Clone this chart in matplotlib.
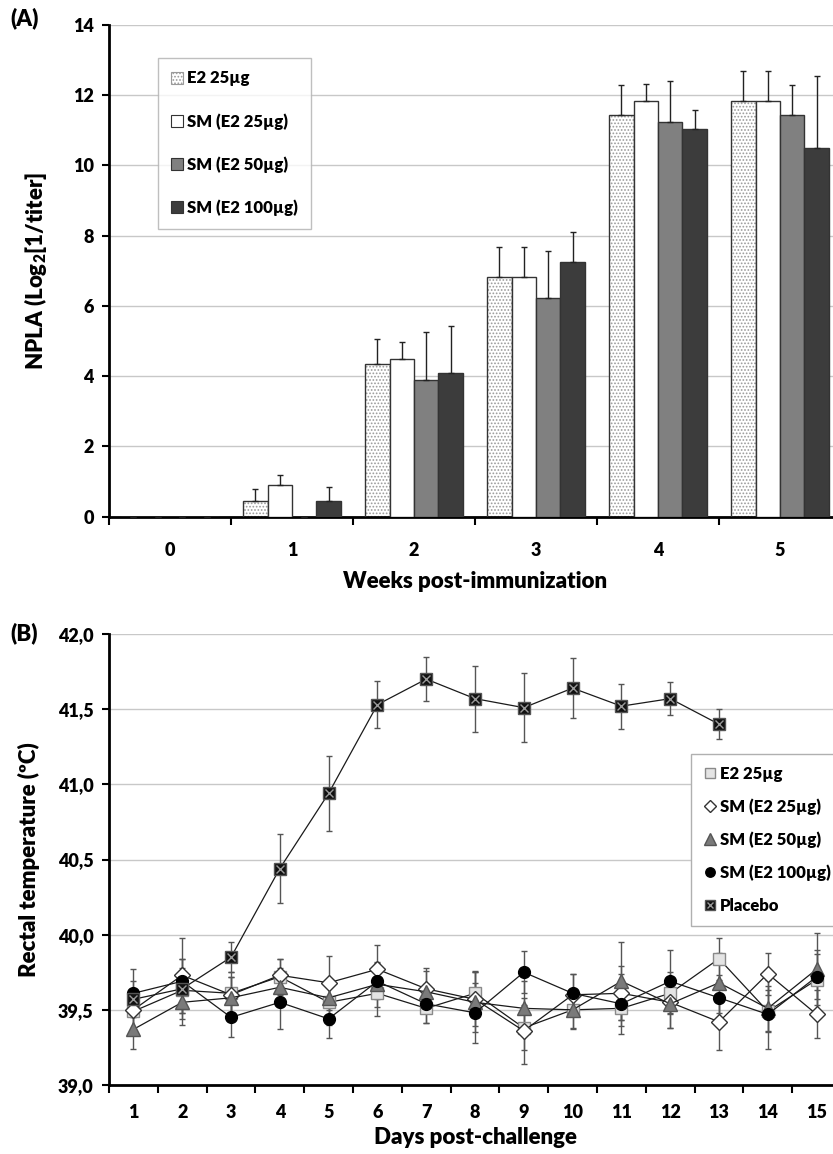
import numpy as np
import matplotlib
matplotlib.use("Agg")
import matplotlib.pyplot as plt
from matplotlib.lines import Line2D
from matplotlib.patches import Patch

plt.rcParams['font.family'] = ['Lato', 'DejaVu Sans']
plt.rcParams['font.weight'] = 'heavy'
plt.rcParams['axes.labelweight'] = 'heavy'
plt.rcParams['mathtext.fontset'] = 'custom'
plt.rcParams['mathtext.rm'] = 'Lato:extrabold'
plt.rcParams['mathtext.bf'] = 'Lato:extrabold'
plt.rcParams['hatch.linewidth'] = 0.8

# ---- panel A data: NPLA titres ----
weeks = ['0', '1', '2', '3', '4', '5']
groups = ['E2 25µg', 'SM (E2 25µg)', 'SM (E2 50µg)', 'SM (E2 100µg)']
npla_e2_25 = [0, 0.44, 4.35, 6.83, 11.45, 11.85]
npla_sm25 = [0, 0.91, 4.50, 6.83, 11.85, 11.85]
npla_sm50 = [0, 0, 3.90, 6.24, 11.25, 11.45]
npla_sm100 = [0, 0.44, 4.10, 7.25, 11.04, 10.50]
npla_err_e2_25 = [0, 0.34, 0.70, 0.84, 0.84, 0.85]
npla_err_sm25 = [0, 0.28, 0.46, 0.84, 0.46, 0.85]
npla_err_sm50 = [0, 0, 1.36, 1.33, 1.15, 0.84]
npla_err_sm100 = [0, 0.40, 1.32, 0.87, 0.55, 2.04]

# ---- panel B data: rectal temperature ----
days = list(range(1, 16))
temp_e2_25 = [39.49, 39.63, 39.61, 39.72, 39.55, 39.61, 39.51, 39.61, 39.38, 39.50, 39.51, 39.61, 39.84, 39.49, 39.70]
temp_sm25 = [39.50, 39.73, 39.60, 39.73, 39.68, 39.77, 39.64, 39.57, 39.36, 39.60, 39.61, 39.55, 39.42, 39.74, 39.47]
temp_sm50 = [39.37, 39.55, 39.58, 39.65, 39.58, 39.67, 39.62, 39.55, 39.51, 39.50, 39.69, 39.54, 39.68, 39.51, 39.77]
temp_sm100 = [39.61, 39.69, 39.45, 39.55, 39.44, 39.69, 39.54, 39.48, 39.75, 39.61, 39.54, 39.69, 39.58, 39.47, 39.72]
temp_placebo = [39.57, 39.64, 39.85, 40.44, 40.94, 41.53, 41.70, 41.57, 41.51, 41.64, 41.52, 41.57, 41.40]
err_e2_25 = [0.12, 0.15, 0.14, 0.12, 0.15, 0.15, 0.10, 0.15, 0.15, 0.12, 0.12, 0.14, 0.14, 0.14, 0.20]
err_sm25 = [0.14, 0.25, 0.12, 0.11, 0.18, 0.16, 0.14, 0.18, 0.22, 0.14, 0.18, 0.17, 0.19, 0.14, 0.16]
err_sm50 = [0.13, 0.15, 0.14, 0.13, 0.12, 0.15, 0.14, 0.20, 0.18, 0.13, 0.26, 0.16, 0.20, 0.15, 0.24]
err_sm100 = [0.16, 0.15, 0.13, 0.18, 0.13, 0.12, 0.13, 0.20, 0.14, 0.13, 0.20, 0.21, 0.15, 0.23, 0.15]
err_placebo = [0.12, 0.20, 0.10, 0.23, 0.25, 0.155, 0.145, 0.22, 0.23, 0.20, 0.15, 0.11, 0.10]
temp_ticks = [39.0, 39.5, 40.0, 40.5, 41.0, 41.5, 42.0]
temp_labels = ['39,0', '39,5', '40,0', '40,5', '41,0', '41,5', '42,0']

W, H = 833, 1154
fig = plt.figure(figsize=(W / 100, H / 100), dpi=100)


def box(x0, x1, ytop, ybot):
    return [x0 / W, 1 - ybot / H, (x1 - x0) / W, (ybot - ytop) / H]


def style_axes(ax):
    for s in ('top', 'right'):
        ax.spines[s].set_visible(False)
    for s in ('left', 'bottom'):
        ax.spines[s].set_linewidth(2)
    ax.yaxis.grid(True, color='#c8c8c8', lw=1)
    ax.set_axisbelow(True)
    ax.tick_params(axis='y', which='major', length=5, width=1.5, labelsize=13, pad=6)
    ax.tick_params(axis='x', which='major', length=6, width=1.5, labelbottom=False)
    ax.tick_params(axis='x', which='minor', length=0, labelsize=13, pad=18)


# ================= Panel A =================
axA = fig.add_axes(box(109, 841, 25, 516.7))
x = np.arange(len(weeks))
bw = 0.2
series = [npla_e2_25, npla_sm25, npla_sm50, npla_sm100]
errs = [npla_err_e2_25, npla_err_sm25, npla_err_sm50, npla_err_sm100]
faces = ['white', 'white', '#808080', '#3c3c3c']
for i, (vals, e, fc) in enumerate(zip(series, errs, faces)):
    xs = x - 0.3 + i * bw
    if i == 0:
        axA.bar(xs, vals, bw, color='white', edgecolor='#9a9a9a', lw=0, hatch='.....', zorder=2)
        axA.bar(xs, vals, bw, color='none', edgecolor='#333333', lw=1, zorder=3)
    else:
        axA.bar(xs, vals, bw, color=fc, edgecolor='#333333', lw=1, zorder=3)
    axA.errorbar(xs, vals, yerr=[np.zeros(len(e)), e], fmt='none', ecolor='#222222',
                 elinewidth=1, capsize=2, capthick=1, zorder=4)
axA.set_xlim(-0.5, len(weeks) - 0.5)
axA.set_ylim(0, 14)
axA.set_yticks(range(0, 15, 2))
axA.set_xticks(np.arange(-0.5, len(weeks), 1.0))
axA.set_xticks(x, minor=True)
axA.set_xticklabels(weeks, minor=True)
style_axes(axA)
axA.set_xlabel('Weeks post-immunization', fontsize=16, labelpad=9)
axA.set_ylabel(r'NPLA (Log$_\mathbf{2}$[1/titer]', fontsize=16, labelpad=17)

legA_handles = [Patch(facecolor='white', edgecolor='#9a9a9a', hatch='.....', lw=0.8),
                Patch(facecolor='white', edgecolor='#333333', lw=0.8),
                Patch(facecolor='#808080', edgecolor='#333333', lw=0.8),
                Patch(facecolor='#3c3c3c', edgecolor='#333333', lw=0.8)]
legA = axA.legend(legA_handles, groups, loc='upper left', bbox_to_anchor=(0.067, 0.933),
                  prop={'size': 12, 'weight': 'heavy'}, frameon=True, fancybox=False,
                  edgecolor='#b0b0b0', handlelength=0.75, handleheight=0.75,
                  handletextpad=0.25, labelspacing=1.6, borderpad=0.75, borderaxespad=0)
legA.get_frame().set_linewidth(1)
fig.text(10 / W, 1 - 18 / H, '(A)', fontsize=16, fontweight='heavy', va='center', ha='left')

# ================= Panel B =================
axB = fig.add_axes(box(109, 841, 634, 1085))
ebar = dict(fmt='none', ecolor='#555555', elinewidth=1, capsize=2, capthick=1, zorder=2)
line_kw = dict(color='#1a1a1a', lw=0.9, zorder=3)

axB.errorbar(days, temp_e2_25, yerr=err_e2_25, **ebar)
axB.errorbar(days, temp_sm25, yerr=err_sm25, **ebar)
axB.errorbar(days, temp_sm50, yerr=err_sm50, **ebar)
axB.errorbar(days, temp_sm100, yerr=err_sm100, **ebar)
axB.errorbar(days[:len(temp_placebo)], temp_placebo, yerr=err_placebo, **ebar)

mk_e2 = dict(marker='s', ms=9, mfc='#e4e4e4', mec='#8a8a8a', mew=1)
mk_sm25 = dict(marker='D', ms=8, mfc='white', mec='#333333', mew=1)
mk_sm50 = dict(marker='^', ms=10, mfc='#7a7a7a', mec='#555555', mew=1)
mk_sm100 = dict(marker='o', ms=8.5, mfc='black', mec='black', mew=1)
mk_pl = dict(marker='s', ms=9, mfc='#111111', mec='#555555', mew=1)

axB.plot(days, temp_e2_25, **line_kw, **mk_e2)
axB.plot(days, temp_sm25, **line_kw, **mk_sm25)
axB.plot(days, temp_sm50, **line_kw, **mk_sm50)
axB.plot(days, temp_sm100, **line_kw, **mk_sm100)
axB.plot(days[:len(temp_placebo)], temp_placebo, **line_kw, **mk_pl)
axB.plot(days[:len(temp_placebo)], temp_placebo, ls='none', marker='x', ms=6,
         mec='#9a9a9a', mew=1, zorder=4)

axB.set_xlim(0.5, len(days) + 0.5)
axB.set_ylim(39.0, 42.0)
axB.set_yticks(temp_ticks)
axB.set_yticklabels(temp_labels)
axB.set_xticks(np.arange(0.5, len(days) + 1, 1.0))
axB.set_xticks(days, minor=True)
axB.set_xticklabels([str(d) for d in days], minor=True)
style_axes(axB)
axB.tick_params(axis='x', which='minor', pad=14)
axB.set_xlabel('Days post-challenge', fontsize=16, labelpad=4)
axB.set_ylabel('Rectal temperature (ºC)', fontsize=16, labelpad=13)

pl_sq = Line2D([], [], ls='none', **mk_pl)
pl_x = Line2D([], [], ls='none', marker='x', ms=6, mec='#9a9a9a', mew=1)
legB_handles = [Line2D([], [], ls='none', **mk_e2),
                Line2D([], [], ls='none', **mk_sm25),
                Line2D([], [], ls='none', **mk_sm50),
                Line2D([], [], ls='none', **mk_sm100),
                (pl_sq, pl_x)]
legB = axB.legend(legB_handles, groups + ['Placebo'], loc='upper left',
                  bbox_to_anchor=(0.795, 0.734), prop={'size': 12, 'weight': 'heavy'},
                  frameon=True, fancybox=False, edgecolor='#b0b0b0', handlelength=0.9,
                  handletextpad=0.15, labelspacing=1.0, borderpad=0.7,
                  borderaxespad=0, framealpha=1, markerscale=0.8)
legB.get_frame().set_linewidth(1)
legB.set_zorder(10)
fig.text(10 / W, 1 - 633 / H, '(B)', fontsize=16, fontweight='heavy', va='center', ha='left')

fig.savefig('out.png', dpi=100)
